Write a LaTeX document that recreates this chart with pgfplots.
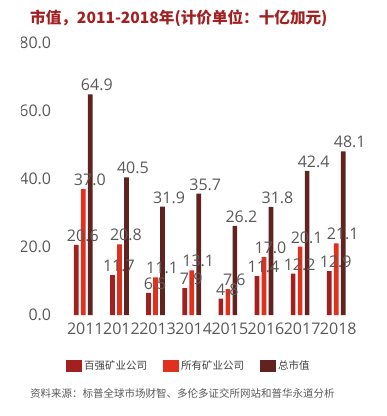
\documentclass[border=0pt]{standalone}
\usepackage{pgfplots}
\pgfplotsset{compat=1.18}
\usepackage{fontspec}
\setmainfont{Open Sans}
\newfontfamily\cjk{Noto Sans CJK SC}
\definecolor{c1}{HTML}{A32020}
\definecolor{c2}{HTML}{E0301E}
\definecolor{c3}{HTML}{602320}
\definecolor{txt}{HTML}{595959}
\definecolor{leg}{HTML}{404040}
\begin{document}
\begin{tikzpicture}
\path (0pt,0pt) rectangle (387pt,416pt);
\begin{scope}
\clip (21.5pt,0pt) rectangle (387pt,416pt);
\begin{axis}[
  at={(65.23pt,101pt)}, anchor=south west,
  x=36.14pt, y=3.4pt,
  xmin=-0.5, xmax=7.5, ymin=0, ymax=80,
  ybar=2.3pt, bar width=4.7pt,
  axis line style={draw=none},
  major tick length=0pt,
  xtick={0,...,7},
  xticklabels={2011,2012,2013,2014,2015,2016,2017,2018},
  ytick={0,20,40,60,80},
  /pgf/number format/assume math mode=true,
  yticklabel={\pgfmathprintnumber[fixed,fixed zerofill,precision=1]{\tick}},
  tick label style={font=\fontsize{16}{18}\selectfont, text=txt},
  xticklabel style={anchor=base, inner sep=0pt, yshift=-19.3pt, xshift=2pt},
  yticklabel style={anchor=east, inner sep=0pt, xshift=-13.9pt},
  nodes near coords={\pgfmathprintnumber[fixed,fixed zerofill,precision=1,assume math mode=true]{\pgfplotspointmeta}},
  every node near coord/.append style={font=\fontsize{16}{18}\selectfont, text=txt, anchor=base, inner sep=0pt, yshift=3.5pt, xshift=6.5pt},
  clip=false,
  legend columns=3,
  legend style={draw=none, fill=none, inner sep=0pt, at={(0.002,-0.1875)}, anchor=west,
    font=\cjk\fontsize{10.5}{12}\selectfont, text=leg,
    /tikz/every even column/.append style={column sep=14pt}},
  legend image code/.code={\fill[#1] (0pt,-6pt) rectangle (16pt,6pt);},
]
\addplot[fill=c1, draw=none] coordinates {(0,20.6) (1,11.7) (2,6.5) (3,7.9) (4,4.8) (5,11.4) (6,12.2) (7,12.9)};
\addplot[fill=c2, draw=none] coordinates {(0,37.0) (1,20.8) (2,11.1) (3,13.1) (4,7.6) (5,17.0) (6,20.1) (7,21.1)};
\addplot[fill=c3, draw=none] coordinates {(0,64.9) (1,40.5) (2,31.9) (3,35.7) (4,26.2) (5,31.8) (6,42.4) (7,48.1)};
\legend{百强矿业公司,所有矿业公司,总市值}
\end{axis}
\end{scope}
\node[anchor=west, inner sep=0pt, text=c1] at (30pt,398pt) {\cjk\bfseries\fontsize{15.6}{18}\selectfont 市值，2011-2018年(计价单位：十亿加元)};
\node[anchor=west, inner sep=0pt, text=txt] at (30pt,23pt) {\cjk\fontsize{10.5}{12}\selectfont 资料来源：标普全球市场财智、多伦多证交所网站和普华永道分析};
\end{tikzpicture}
\end{document}
